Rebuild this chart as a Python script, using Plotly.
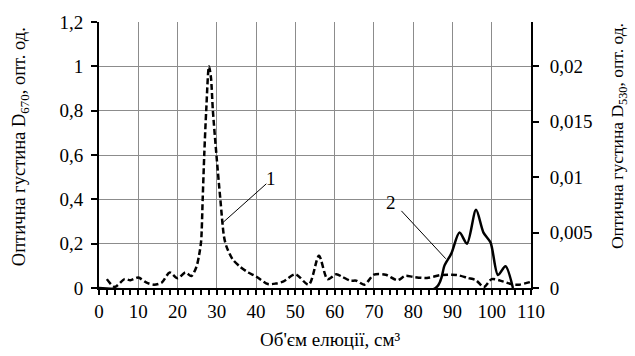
import plotly.graph_objects as go

# Curve 1 (D670, left axis, dashed)
x1 = [2, 4, 6.5, 8, 10, 12, 14, 16, 18, 20, 22, 23.5, 24.8, 25.5, 26, 26.4, 26.8, 27.3, 28,
      28.5, 29, 29.9, 30.9, 31.8, 32.4, 34, 36, 38, 40, 43, 45, 47, 50, 53.4, 56, 58.2, 60.4,
      62, 64, 65.5, 67.6, 70, 73, 76, 78, 80, 83.5, 87, 91, 94, 96, 98, 100, 102.8, 105.5, 107, 110]
y1 = [0.04, 0.005, 0.04, 0.035, 0.047, 0.025, 0.015, 0.025, 0.07, 0.044, 0.07, 0.054, 0.095,
      0.15, 0.21, 0.4, 0.6, 0.8, 1.0, 0.95, 0.8, 0.6, 0.4, 0.235, 0.19, 0.13, 0.095, 0.07, 0.052,
      0.018, 0.02, 0.03, 0.062, 0.015, 0.145, 0.04, 0.062, 0.05, 0.033, 0.033, 0.015, 0.06, 0.06,
      0.035, 0.055, 0.05, 0.045, 0.058, 0.059, 0.045, 0.035, 0.004, 0.04, 0.03, 0.015, 0.015, 0.028]

# Curve 2 (D530, right axis, solid)
x2 = [0, 85.7, 88, 89.7, 91.8, 93.7, 96, 97.9, 99.7, 101.6, 103.5, 105.4]
y2 = [0, 0, 0.00205, 0.0031, 0.005, 0.004, 0.00705, 0.005, 0.0041, 0.00117, 0.00196, 0]

x_ticks = [0, 10, 20, 30, 40, 50, 60, 70, 80, 90, 100, 110]
y_left_ticks = [0, 0.2, 0.4, 0.6, 0.8, 1.0, 1.2]
y_left_text = ["0", "0,2", "0,4", "0,6", "0,8", "1", "1,2"]
y_right_ticks = [0, 0.005, 0.01, 0.015, 0.02]
y_right_text = ["0", "0,005", "0,01", "0,015", "0,02"]

FONT = "Times New Roman, Liberation Serif, DejaVu Serif, serif"
TICK = 19

fig = go.Figure()
fig.add_trace(go.Scatter(x=x1, y=y1, mode="lines", yaxis="y",
                         line=dict(color="black", width=2.5, dash="6px,3px",
                                   shape="spline", smoothing=0.8),
                         showlegend=False))
fig.add_trace(go.Scatter(x=x2, y=y2, mode="lines", yaxis="y2",
                         line=dict(color="black", width=2.5, shape="spline", smoothing=0.8),
                         showlegend=False))

# leader lines for labels
fig.add_shape(type="line", xref="x", yref="y", x0=42.6, y0=0.47, x1=31.4, y1=0.293,
              line=dict(color="black", width=1))
fig.add_shape(type="line", xref="x", yref="y", x0=77.0, y0=0.348, x1=88.3, y1=0.132,
              line=dict(color="black", width=1))
fig.add_annotation(x=43.9, y=0.495, xref="x", yref="y", text="1", showarrow=False,
                   font=dict(family=FONT, size=TICK, color="black"))
fig.add_annotation(x=74.3, y=0.386, xref="x", yref="y", text="2", showarrow=False,
                   font=dict(family=FONT, size=TICK, color="black"))

# axis titles
fig.add_annotation(text="Оптична густина D<sub>670</sub>, опт. од.", textangle=-90,
                   xref="paper", yref="paper", x=-0.183, y=0.533, xanchor="center", yanchor="middle",
                   showarrow=False, font=dict(family=FONT, size=18.5, color="black"))
fig.add_annotation(text="Оптична густина D<sub>530</sub>, опт. од.", textangle=-90,
                   xref="paper", yref="paper", x=1.203, y=0.57, xanchor="center", yanchor="middle",
                   showarrow=False, font=dict(family=FONT, size=17.5, color="black"))
fig.add_annotation(text="Об'єм елюції, см³", xref="paper", yref="paper", x=0.535, y=-0.195,
                   xanchor="center", yanchor="middle", showarrow=False,
                   font=dict(family=FONT, size=19, color="black"))

fig.update_layout(
    width=635, height=356,
    margin=dict(l=99, r=104, t=15, b=68),
    paper_bgcolor="white", plot_bgcolor="white",
    font=dict(family=FONT, size=TICK, color="black"),
    xaxis=dict(range=[0, 110], tickvals=x_ticks, ticktext=[str(v) for v in x_ticks],
               tickfont=dict(family=FONT, size=TICK, color="black"),
               showgrid=True, gridcolor="#8c8c8c", gridwidth=1,
               showline=True, linecolor="black", linewidth=2,
               ticks="outside", ticklen=5, tickcolor="black", tickwidth=1.5,
               minor=dict(dtick=2, ticks="outside", ticklen=5, tickcolor="black",
                          tickwidth=1.5, showgrid=False),
               zeroline=False, fixedrange=True),
    yaxis=dict(range=[0, 1.2], tickvals=y_left_ticks, ticktext=y_left_text,
               tickfont=dict(family=FONT, size=TICK, color="black"),
               showgrid=True, gridcolor="#8c8c8c", gridwidth=1,
               showline=True, linecolor="black", linewidth=2,
               ticks="outside", ticklen=6, tickcolor="black", tickwidth=1.5,
               ticklabelstandoff=4, zeroline=False),
    yaxis2=dict(range=[0, 0.024], tickvals=y_right_ticks, ticktext=y_right_text,
                tickfont=dict(family=FONT, size=TICK, color="black"),
                overlaying="y", side="right", showgrid=False,
                showline=True, linecolor="black", linewidth=2,
                ticks="outside", ticklen=6, tickcolor="black", tickwidth=1.5,
                ticklabelstandoff=7, zeroline=False),
)

fig.write_html("out.html")
